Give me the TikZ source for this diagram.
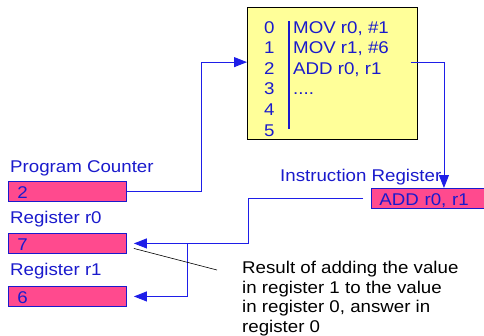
\documentclass[tikz,border=0pt]{standalone}
\usepackage{fontspec}
\setmainfont{Liberation Sans}[FakeStretch=1.1]
\usetikzlibrary{arrows.meta}
\definecolor{cText}{HTML}{1A1ACC}
\definecolor{cLine}{HTML}{1E1EE8}
\definecolor{cMem}{HTML}{FFFF99}
\definecolor{cReg}{HTML}{FF4A8E}
\tikzset{
  membox/.style={draw=black, fill=cMem, line width=0.9pt, inner sep=0pt, anchor=north west,
                 minimum width=170pt, minimum height=132pt},
  regbox/.style={draw=cText, fill=cReg, line width=0.9pt, inner xsep=9pt, inner ysep=0pt,
                 anchor=north west, minimum height=20pt, text height=15pt, text depth=0pt,
                 align=left, text=cText},
  txt/.style   ={text=cText, inner sep=0pt, anchor=base west},
  note/.style  ={text=black, inner sep=0pt, anchor=north west, align=left},
  link/.style  ={draw=cLine, line width=0.9pt},
  arrow/.style ={link, -{Triangle[length=13pt, width=10pt]}},
}

\begin{document}
\begin{tikzpicture}[x=1pt, y=-1pt, font=\fontsize{17}{19.5}\selectfont]
  \useasboundingbox (0,0) rectangle (484,335);

  % program memory
  \node[membox] (mem) at (247,7) {};
  \foreach \a in {0,...,5}
    \node[txt] (a\a) at (264,{33+20.6*\a}) {\a};
  \foreach \i/\ins in {0/{MOV r0, \#1},1/{MOV r1, \#6},2/{ADD r0, r1},3/{....}}
    \node[txt] (i\i) at (293,{33+20.6*\i}) {\ins};
  \draw[cText, line width=1.5pt] (289,21) -- (289,129);

  % registers
  \node[txt] (pclbl) at (10,172) {Program Counter};
  \node[regbox, text width=100pt] (pc) at (8,181) {2};
  \node[txt] (r0lbl) at (10,223) {Register r0};
  \node[regbox, text width=100pt] (r0) at (8,233) {7};
  \node[txt] (r1lbl) at (10,275) {Register r1};
  \node[regbox, text width=100pt] (r1) at (8,286) {6};
  \node[regbox, inner xsep=8pt, text width=97pt] (ir) at (371,188) {ADD r0, r1};
  \node[txt] (irlbl) at (280,181) {Instruction Register};

  % connectors
  \draw[arrow] (pc.east) -- ++(75,0) |- (mem.west |- a2.north);
  \draw[arrow] ([xshift=29pt]i2.north east) -| ([xshift=16pt]ir.north);
  \draw[arrow] ([xshift=-8pt]ir.west) -- ++(-115,0) |- ([xshift=7pt]r0.east);
  \draw[arrow] ([xshift=61pt]r0.east) |- ([xshift=7pt]r1.east);

  % annotation
  \node[note] (note) at (242,261) {Result of adding the value\\in register 1 to the value\\in register 0, answer in\\register 0};
  \draw[black, line width=0.6pt] ([xshift=7pt, yshift=-5pt]r0.east) -- ([xshift=-25pt, yshift=-9pt]note.north west);
\end{tikzpicture}
\end{document}
